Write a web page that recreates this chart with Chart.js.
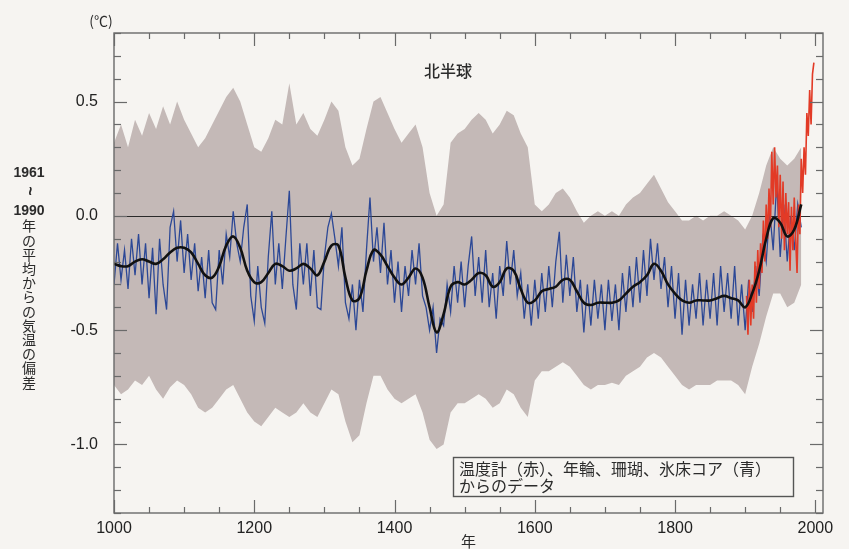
<!DOCTYPE html>
<html>
<head>
<meta charset="utf-8">
<script src="https://cdn.jsdelivr.net/npm/chart.js@4.4.1/dist/chart.umd.min.js"></script>
<style>
html,body{margin:0;padding:0;background:#f6f4f1;}
#wrap{width:849px;height:549px;}
</style>
</head>
<body>
<div id="wrap"><canvas id="c" width="849" height="549"></canvas></div>
<script>
// ---------- DATA ----------
const decadeStart = 1000, decadeStep = 10;   // years of band / smooth arrays
const halfStart = 1000, halfStep = 5;        // years of reconstruction array
const redStart = 1902, redStep = 2;          // years of instrumental array

// upper / lower edge of the grey uncertainty band (℃), 1000..1980 every 10 years
const bandUpper = [
 0.32,0.40,0.30,0.42,0.35,0.45,0.38,0.48,0.40,0.50,
 0.42,0.36,0.30,0.34,0.40,0.46,0.52,0.56,0.50,0.40,
 0.30,0.28,0.34,0.42,0.40,0.58,0.40,0.45,0.38,0.35,
 0.42,0.50,0.46,0.30,0.22,0.25,0.38,0.50,0.52,0.45,
 0.38,0.32,0.36,0.40,0.30,0.10,0.00,0.05,0.32,0.36,
 0.38,0.42,0.45,0.42,0.36,0.40,0.46,0.44,0.36,0.30,
 0.05,0.02,0.05,0.10,0.12,0.08,0.02,-0.03,0.00,0.02,
 0.00,0.02,0.00,0.05,0.08,0.10,0.14,0.18,0.12,0.06,
 0.02,-0.02,-0.02,0.00,-0.02,0.00,0.00,0.02,0.00,-0.02,
 -0.06,0.00,0.10,0.22,0.30,0.25,0.22,0.25,0.30
];
const bandLower = [
 -0.74,-0.78,-0.76,-0.72,-0.74,-0.70,-0.76,-0.80,-0.75,-0.72,
 -0.74,-0.78,-0.84,-0.86,-0.84,-0.80,-0.76,-0.74,-0.80,-0.86,
 -0.90,-0.92,-0.88,-0.84,-0.86,-0.88,-0.86,-0.82,-0.86,-0.88,
 -0.82,-0.76,-0.78,-0.90,-0.99,-0.96,-0.82,-0.70,-0.70,-0.76,
 -0.80,-0.82,-0.80,-0.78,-0.86,-0.98,-1.02,-1.00,-0.86,-0.82,
 -0.82,-0.80,-0.78,-0.80,-0.84,-0.82,-0.76,-0.78,-0.84,-0.88,
 -0.72,-0.68,-0.68,-0.66,-0.64,-0.66,-0.70,-0.74,-0.76,-0.74,
 -0.74,-0.73,-0.74,-0.70,-0.68,-0.66,-0.62,-0.60,-0.62,-0.66,
 -0.70,-0.74,-0.76,-0.74,-0.74,-0.74,-0.72,-0.72,-0.72,-0.74,
 -0.78,-0.66,-0.56,-0.44,-0.34,-0.34,-0.40,-0.38,-0.30
];
// smoothed reconstruction (black), 1000..1980 every 10 years
const smooth = [
 -0.21,-0.22,-0.22,-0.20,-0.19,-0.20,-0.21,-0.19,-0.16,-0.14,
 -0.14,-0.16,-0.21,-0.26,-0.27,-0.22,-0.13,-0.09,-0.14,-0.24,
 -0.29,-0.29,-0.25,-0.21,-0.22,-0.24,-0.23,-0.21,-0.23,-0.26,
 -0.20,-0.13,-0.13,-0.27,-0.37,-0.36,-0.24,-0.15,-0.17,-0.22,
 -0.27,-0.30,-0.27,-0.23,-0.27,-0.40,-0.51,-0.43,-0.31,-0.29,
 -0.30,-0.28,-0.25,-0.26,-0.31,-0.29,-0.23,-0.24,-0.32,-0.38,
 -0.37,-0.33,-0.32,-0.31,-0.28,-0.28,-0.33,-0.38,-0.39,-0.38,
 -0.38,-0.38,-0.37,-0.34,-0.31,-0.29,-0.26,-0.21,-0.24,-0.30,
 -0.34,-0.37,-0.38,-0.37,-0.37,-0.37,-0.36,-0.35,-0.36,-0.37,
 -0.40,-0.34,-0.24,-0.10,-0.01,-0.03,-0.09,-0.06,0.05
];
// proxy reconstruction (blue), 1000..1980 every 5 years
const recon = [
 -0.30,-0.12,-0.28,-0.15,-0.32,-0.10,-0.26,-0.08,-0.30,-0.12,-0.36,-0.14,-0.43,-0.10,-0.30,-0.41,-0.05,0.02,-0.20,-0.02,
 -0.25,-0.08,-0.28,-0.12,-0.33,-0.18,-0.36,-0.15,-0.38,-0.41,-0.15,-0.30,-0.08,-0.18,0.02,-0.12,-0.20,-0.05,0.05,-0.35,
 -0.46,-0.22,-0.40,-0.47,-0.18,0.02,-0.30,-0.12,-0.32,-0.10,0.11,-0.30,-0.41,-0.12,-0.30,-0.12,-0.35,-0.15,-0.40,-0.41,
 -0.18,-0.05,0.01,-0.10,-0.22,-0.05,-0.38,-0.45,-0.30,-0.50,-0.28,-0.42,-0.15,0.08,-0.20,-0.05,-0.25,-0.03,-0.30,-0.15,
 -0.38,-0.20,-0.42,-0.22,-0.35,-0.15,-0.30,-0.12,-0.35,-0.40,-0.50,-0.40,-0.60,-0.45,-0.48,-0.30,-0.42,-0.22,-0.38,-0.20,
 -0.40,-0.22,-0.09,-0.35,-0.18,-0.38,-0.15,-0.40,-0.25,-0.45,-0.22,-0.35,-0.11,-0.30,-0.15,-0.35,-0.25,-0.45,-0.30,-0.48,
 -0.28,-0.45,-0.25,-0.42,-0.22,-0.40,-0.20,-0.07,-0.38,-0.17,-0.35,-0.18,-0.42,-0.28,-0.51,-0.30,-0.48,-0.28,-0.45,-0.30,
 -0.50,-0.28,-0.46,-0.30,-0.50,-0.25,-0.42,-0.22,-0.40,-0.18,-0.38,-0.15,-0.35,-0.10,-0.28,-0.12,-0.32,-0.18,-0.40,-0.22,
 -0.45,-0.25,-0.52,-0.28,-0.48,-0.30,-0.45,-0.25,-0.48,-0.28,-0.45,-0.25,-0.48,-0.22,-0.42,-0.25,-0.45,-0.22,-0.48,-0.30,
 -0.50,-0.28,-0.42,-0.22,-0.35,-0.10,-0.20,0.02,-0.15,0.15,-0.18,0.05,-0.20,0.00,-0.15,0.05,-0.05
];
// thermometer record (red), 1902..1998 every 2 years
const thermo = [
 -0.35,-0.52,-0.28,-0.48,-0.30,-0.45,-0.20,-0.38,-0.15,-0.32,
 -0.12,-0.25,-0.02,-0.20,0.05,-0.10,0.12,-0.05,0.28,0.05,
 0.30,0.08,0.22,-0.05,0.18,-0.10,0.15,-0.15,0.10,-0.08,
 0.06,-0.24,0.04,-0.15,0.08,-0.10,-0.25,0.05,-0.08,0.25,
 0.10,0.30,0.18,0.45,0.35,0.55,0.40,0.62,0.67
];
// axis ticks / labels
const xMin = 1000, xMax = 2011, xMinorStep = 50, xLabelStep = 200;
const yMin = -1.3, yMax = 0.8, yMinorStep = 0.1, yLabelStep = 0.5;
const unitLabel = '(℃)';
const chartTitle = '北半球';
const xTitle = '年';
const yTitleTop = ['1961', '~', '1990'];
const yTitleChars = '年の平均からの気温の偏差';
const noteLines = ['温度計（赤）、年輪、珊瑚、氷床コア（青）', 'からのデータ'];

// ---------- build points ----------
const pts = (arr, start, step) => arr.map((v, i) => ({x: start + i * step, y: v}));

const NUM = '"Liberation Sans", Arial, sans-serif';
const JP = '"Noto Sans CJK JP", sans-serif';
const BG = '#f6f4f1';

const bgPlugin = {
  id: 'bg',
  beforeDraw(chart) {
    const ctx = chart.ctx;
    ctx.save(); ctx.fillStyle = BG; ctx.fillRect(0, 0, chart.width, chart.height); ctx.restore();
  }
};

const zeroLine = {
  id: 'zeroLine',
  afterDatasetDraw(chart, args) {
    if (chart.data.datasets[args.index].label !== 'bandUpper') return;
    const {ctx, chartArea: a, scales: {y}} = chart;
    const py = Math.round(y.getPixelForValue(0)) + 0.5;
    ctx.save();
    ctx.strokeStyle = '#2a2a2a'; ctx.lineWidth = 1.2;
    ctx.beginPath(); ctx.moveTo(a.left, py); ctx.lineTo(a.right, py); ctx.stroke();
    ctx.restore();
  }
};

const frame = {
  id: 'frame',
  afterDatasetsDraw(chart) {
    const {ctx, chartArea: a, scales: {x, y}} = chart;
    ctx.save();
    ctx.strokeStyle = '#6a6a6a'; ctx.lineWidth = 1.4;
    ctx.strokeRect(a.left, a.top, a.right - a.left, a.bottom - a.top);
    ctx.lineWidth = 1.2;
    const seg = (x1, y1, x2, y2) => { ctx.beginPath(); ctx.moveTo(x1, y1); ctx.lineTo(x2, y2); ctx.stroke(); };
    x.ticks.forEach(t => {
      const v = t.value;
      if (Math.abs(v / xMinorStep - Math.round(v / xMinorStep)) > 1e-6) return;
      const px = Math.round(x.getPixelForValue(v)) + 0.5;
      const L = (v % xLabelStep === 0) ? 13 : 6;
      seg(px, a.bottom, px, a.bottom - L);
      seg(px, a.top, px, a.top + L);
    });
    y.ticks.forEach(t => {
      const v = t.value;
      const py = Math.round(y.getPixelForValue(v)) + 0.5;
      const major = Math.abs(v / yLabelStep - Math.round(v / yLabelStep)) < 1e-6;
      const L = major ? 13 : 7;
      seg(a.left, py, a.left + L, py);
      seg(a.right, py, a.right - L, py);
    });
    ctx.restore();
  }
};

const texts = {
  id: 'texts',
  afterDraw(chart) {
    const {ctx, chartArea: a} = chart;
    ctx.save();
    ctx.fillStyle = '#2b2b2b';
    ctx.textAlign = 'center'; ctx.textBaseline = 'middle';
    // unit
    ctx.font = '14px ' + JP;
    ctx.fillText(unitLabel, 101, 21);
    // title
    ctx.font = '500 16px ' + JP;
    ctx.fillText(chartTitle, 448, 71);
    // x title
    ctx.font = '15px ' + JP;
    ctx.fillText(xTitle, (a.left + a.right) / 2, 541);
    // y title (vertical)
    ctx.font = 'bold 14px ' + NUM;
    ctx.fillText(yTitleTop[0], 29, 173);
    ctx.save();
    ctx.translate(29, 191); ctx.rotate(Math.PI / 2);
    ctx.font = 'bold 16px ' + NUM;
    ctx.fillText(yTitleTop[1], 0, 0);
    ctx.restore();
    ctx.fillText(yTitleTop[2], 29, 211);
    ctx.font = '14px ' + JP;
    Array.from(yTitleChars).forEach((ch, i) => ctx.fillText(ch, 29, 226 + i * 14.2));
    // note box
    ctx.fillStyle = BG;
    ctx.fillRect(453, 457, 340, 39);
    ctx.strokeStyle = '#555'; ctx.lineWidth = 1.4;
    ctx.strokeRect(453.5, 457.5, 340, 39);
    ctx.fillStyle = '#2b2b2b';
    ctx.textAlign = 'left';
    ctx.font = '16px ' + JP;
    ctx.fillText(noteLines[0], 459, 469);
    ctx.fillText(noteLines[1], 459, 486);
    ctx.restore();
  }
};

new Chart(document.getElementById('c'), {
  type: 'line',
  data: {
    datasets: [
      {label: 'bandUpper', data: pts(bandUpper, decadeStart, decadeStep), borderWidth: 0, pointRadius: 0,
       fill: '+1', backgroundColor: 'rgb(196,185,183)', borderColor: 'rgba(0,0,0,0)', order: 5, tension: 0},
      {label: 'bandLower', data: pts(bandLower, decadeStart, decadeStep), borderWidth: 0, pointRadius: 0,
       fill: false, borderColor: 'rgba(0,0,0,0)', order: 5, tension: 0},
      {label: 'recon', data: pts(recon, halfStart, halfStep), borderColor: 'rgb(44,72,150)', borderWidth: 1.3,
       pointRadius: 0, fill: false, order: 3, tension: 0},
      {label: 'thermo', data: pts(thermo, redStart, redStep), borderColor: 'rgb(226,58,38)', borderWidth: 1.6,
       pointRadius: 0, fill: false, order: 2, tension: 0},
      {label: 'smooth', data: pts(smooth, decadeStart, decadeStep), borderColor: '#111', borderWidth: 2.6,
       pointRadius: 0, fill: false, order: 1, tension: 0.4}
    ]
  },
  options: {
    responsive: false,
    devicePixelRatio: 1,
    animation: false,
    layout: {padding: {left: 0, right: 26, top: 33, bottom: 0}},
    plugins: {legend: {display: false}, tooltip: {enabled: false}},
    scales: {
      x: {
        type: 'linear', min: xMin, max: xMax,
        grid: {display: false, drawTicks: false},
        border: {display: false},
        afterFit: s => { s.height = 36; },
        ticks: {
          stepSize: xMinorStep, autoSkip: false, maxRotation: 0, padding: 6, includeBounds: false,
          color: '#222', font: {family: NUM, size: 16},
          callback: v => (v % xLabelStep === 0 ? String(v) : '')
        }
      },
      y: {
        min: yMin, max: yMax,
        grid: {display: false, drawTicks: false},
        border: {display: false},
        afterFit: s => { s.width = 114; },
        ticks: {
          stepSize: yMinorStep, autoSkip: false, padding: 16,
          color: '#222', font: {family: NUM, size: 16},
          callback: v => (Math.abs(v / yLabelStep - Math.round(v / yLabelStep)) < 1e-6 ? v.toFixed(1) : '')
        }
      }
    }
  },
  plugins: [bgPlugin, zeroLine, frame, texts]
});
</script>
</body>
</html>
